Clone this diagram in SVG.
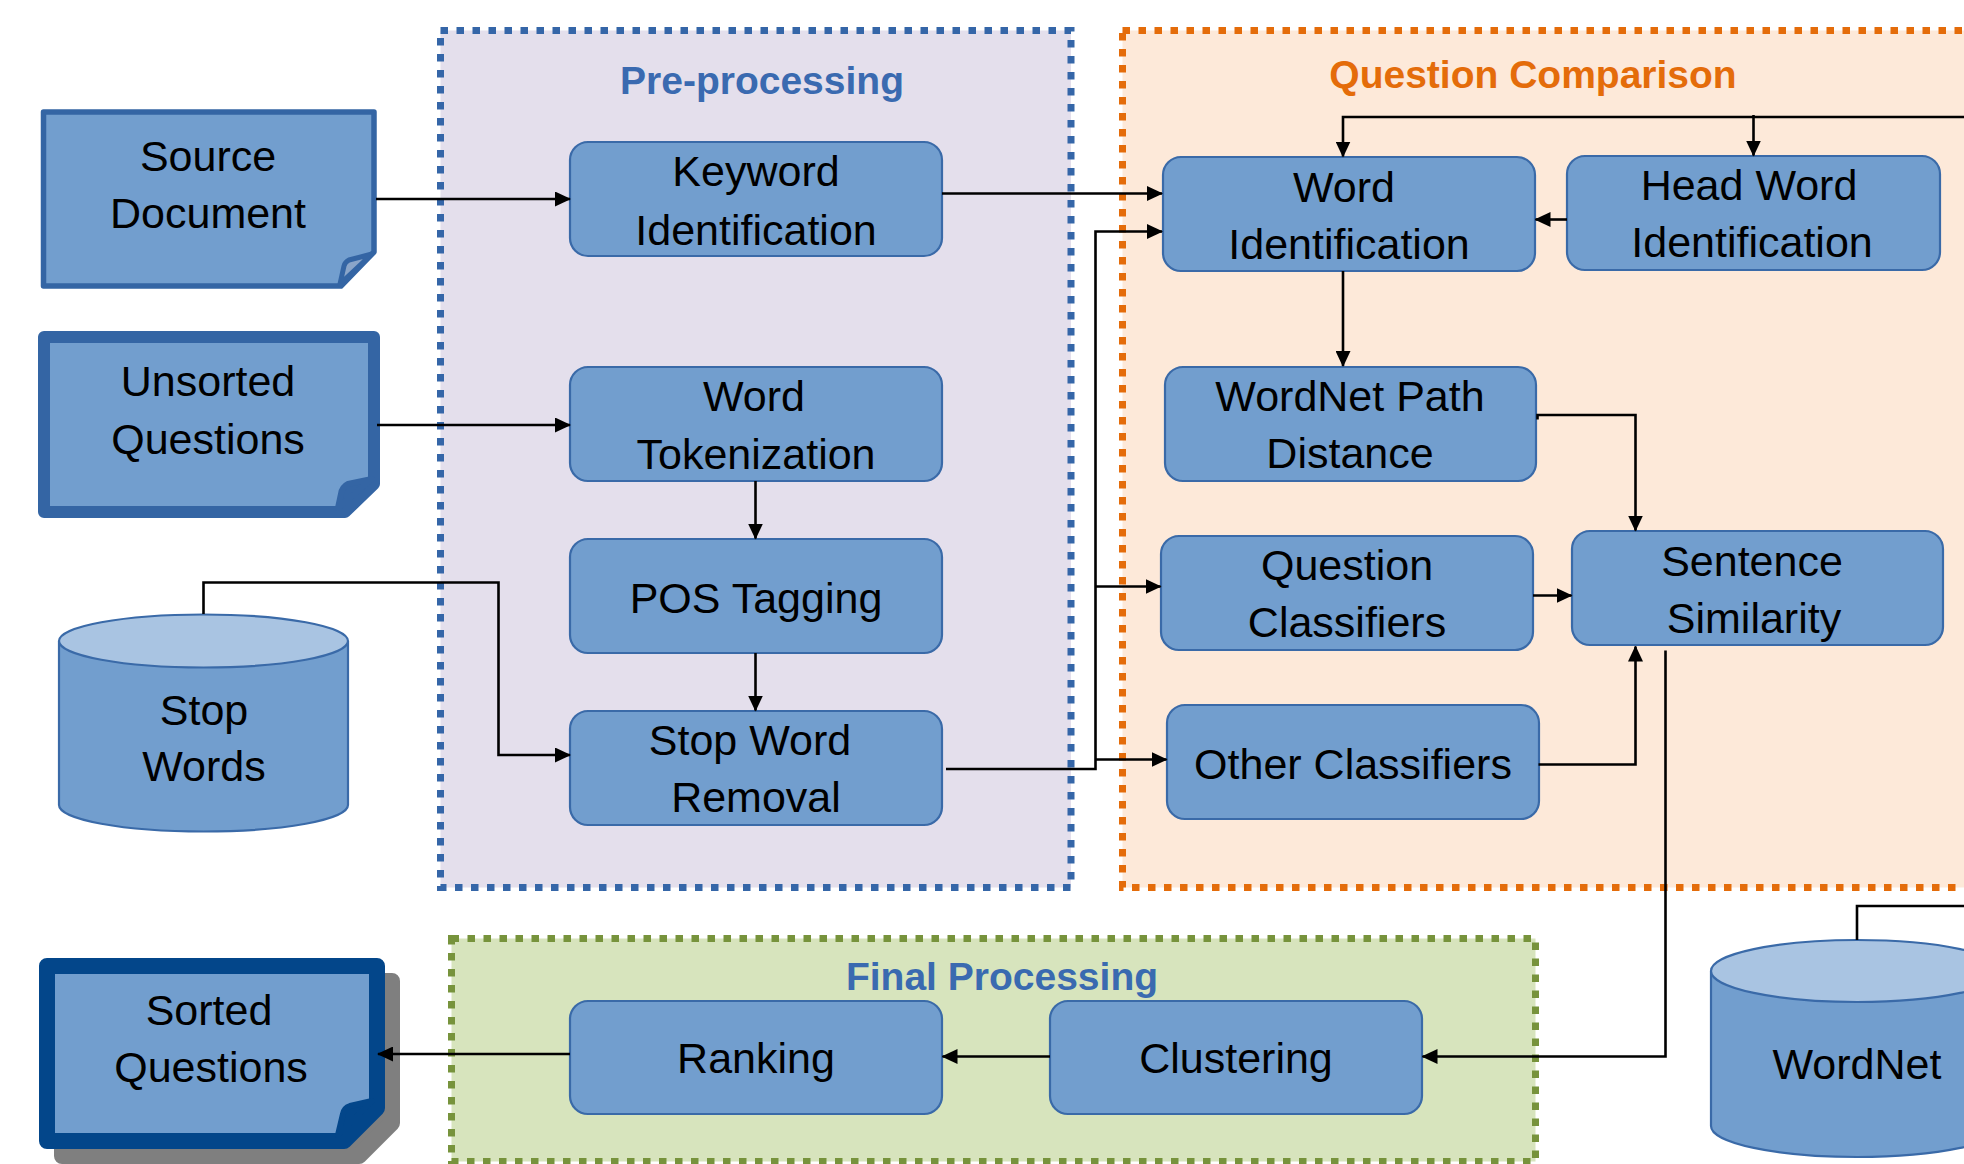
<svg xmlns="http://www.w3.org/2000/svg" width="1964" height="1164" viewBox="0 0 1964 1164">
<defs>
<style>
.cont{stroke-width:7;stroke-dasharray:7.5 8.5}
.title{font-family:"Liberation Sans",Arial,sans-serif;font-weight:bold;font-size:39px;text-anchor:middle}
.box{fill:#729ECE;stroke:#3A6AA8;stroke-width:2.2}
.t{font-family:"Liberation Sans",Arial,sans-serif;font-size:43px;fill:#000;text-anchor:middle}
.conn{fill:none;stroke:#000;stroke-width:2.6;stroke-linejoin:miter}
.cyl{fill:#729ECE;stroke:#3A6AA8;stroke-width:2.2}
.cyltop{fill:#A9C4E2;stroke:#3A6AA8;stroke-width:2.2}
</style>
<marker id="arr" viewBox="0 0 16 15" refX="15" refY="7.5" markerWidth="16" markerHeight="15" markerUnits="userSpaceOnUse" orient="auto">
<path d="M0,0 L16,7.5 L0,15 Z" fill="#000"/>
</marker>
</defs>
<rect width="1964" height="1164" fill="#fff"/>

<g id="preprocessing">
<rect x="440.5" y="30.5" width="630.5" height="857" fill="#E4DFEC" stroke="#3566A8" class="cont"/>
<text class="title" x="762" y="93.5" fill="#3A6AB0">Pre-processing</text>
</g>
<g id="question-comparison">
<rect x="1122.5" y="30.5" width="900" height="857" fill="#FDE9D9" stroke="#E46C0A" class="cont"/>
<text class="title" x="1533" y="87.5" fill="#E46C0A">Question Comparison</text>
</g>
<g id="final-processing">
<rect x="451.5" y="938.5" width="1084" height="223" fill="#D7E4BD" stroke="#77933C" class="cont"/>
<text class="title" x="1002" y="990" fill="#3A6AB0">Final Processing</text>
</g>

<g id="source-document">
<path d="M43.5,112 H374 V252 L341,286 H43.5 Z" fill="#729ECE" stroke="#3465A4" stroke-width="5.5" stroke-linejoin="round"/>
<path d="M372,254 L349,260 Q345,262 344,266 L340,284 Z" fill="#8AA5C9" stroke="#3465A4" stroke-width="5" stroke-linejoin="round"/>
<text class="t" x="208" y="171">Source</text>
<text class="t" x="208" y="228">Document</text>
</g>

<g id="unsorted-questions">
<path d="M44,337 H374 V484 L345,512 H44 Z" fill="#729ECE" stroke="#3465A4" stroke-width="12" stroke-linejoin="round"/>
<path d="M372,479 L348,484 Q342,487 341,494 L338,508 Z" fill="#3465A4" stroke="#3465A4" stroke-width="6" stroke-linejoin="round"/>
<text class="t" x="208" y="396">Unsorted</text>
<text class="t" x="208" y="454">Questions</text>
</g>

<g id="stop-words">
<path class="cyl" d="M59,641 V805 A144.5,26.5 0 0 0 348,805 V641"/>
<ellipse class="cyltop" cx="203.5" cy="641" rx="144.5" ry="26.5"/>
<text class="t" x="204" y="725">Stop</text>
<text class="t" x="204" y="781">Words</text>
</g>

<g id="sorted-questions">
<path d="M47,966 H377 V1108 L344,1141 H47 Z" transform="translate(15,15)" fill="#7F7F7F" stroke="#7F7F7F" stroke-width="16" stroke-linejoin="round"/>
<path d="M47,966 H377 V1108 L344,1141 H47 Z" fill="#729ECE" stroke="#03468A" stroke-width="16" stroke-linejoin="round"/>
<path d="M372,1101 L350,1106 Q344,1108 343,1114 L338,1135 Z" fill="#03468A" stroke="#03468A" stroke-width="6" stroke-linejoin="round"/>
<text class="t" x="209" y="1025">Sorted</text>
<text class="t" x="211" y="1082">Questions</text>
</g>

<g id="keyword-identification">
<rect class="box" x="570" y="142" width="372" height="114" rx="18"/>
<text class="t" x="756" y="186">Keyword</text>
<text class="t" x="756" y="245">Identification</text>
</g>
<g id="word-tokenization">
<rect class="box" x="570" y="367" width="372" height="114" rx="18"/>
<text class="t" x="754" y="411">Word</text>
<text class="t" x="756" y="469">Tokenization</text>
</g>
<g id="pos-tagging">
<rect class="box" x="570" y="539" width="372" height="114" rx="18"/>
<text class="t" x="756" y="613">POS Tagging</text>
</g>
<g id="stop-word-removal">
<rect class="box" x="570" y="711" width="372" height="114" rx="18"/>
<text class="t" x="750" y="755">Stop Word</text>
<text class="t" x="756" y="812">Removal</text>
</g>
<g id="word-identification">
<rect class="box" x="1163" y="157" width="372" height="114" rx="18"/>
<text class="t" x="1344" y="202">Word</text>
<text class="t" x="1349" y="259">Identification</text>
</g>
<g id="head-word-identification">
<rect class="box" x="1567" y="156" width="373" height="114" rx="18"/>
<text class="t" x="1749" y="200">Head Word</text>
<text class="t" x="1752" y="257">Identification</text>
</g>
<g id="wordnet-path-distance">
<rect class="box" x="1165" y="367" width="371" height="114" rx="18"/>
<text class="t" x="1350" y="411">WordNet Path</text>
<text class="t" x="1350" y="468">Distance</text>
</g>
<g id="question-classifiers">
<rect class="box" x="1161" y="536" width="372" height="114" rx="18"/>
<text class="t" x="1347" y="580">Question</text>
<text class="t" x="1347" y="637">Classifiers</text>
</g>
<g id="sentence-similarity">
<rect class="box" x="1572" y="531" width="371" height="114" rx="18"/>
<text class="t" x="1752" y="576">Sentence</text>
<text class="t" x="1754" y="633">Similarity</text>
</g>
<g id="other-classifiers">
<rect class="box" x="1167" y="705" width="372" height="114" rx="18"/>
<text class="t" x="1353" y="779">Other Classifiers</text>
</g>
<g id="clustering">
<rect class="box" x="1050" y="1001" width="372" height="113" rx="18"/>
<text class="t" x="1236" y="1073">Clustering</text>
</g>
<g id="ranking">
<rect class="box" x="570" y="1001" width="372" height="113" rx="18"/>
<text class="t" x="756" y="1073">Ranking</text>
</g>
<g id="wordnet">
<path class="cyl" d="M1711,971 V1126 A146,31 0 0 0 2003,1126 V971"/>
<ellipse class="cyltop" cx="1857" cy="971" rx="146" ry="31"/>
<text class="t" x="1857" y="1079">WordNet</text>
</g>

<g id="connectors">
<path class="conn" d="M376,199 H570" marker-end="url(#arr)"/>
<path class="conn" d="M377,425 H570" marker-end="url(#arr)"/>
<path class="conn" d="M203.5,614 V582.5 H498.5 V755 H570" marker-end="url(#arr)"/>
<path class="conn" d="M755.5,481 V538.5" marker-end="url(#arr)"/>
<path class="conn" d="M755.5,653 V710.5" marker-end="url(#arr)"/>
<path class="conn" d="M942,193.5 H1162" marker-end="url(#arr)"/>
<path class="conn" d="M946,769 H1095.5 V231.5 H1162" marker-end="url(#arr)"/>
<path class="conn" d="M1095.5,586.5 H1160.5" marker-end="url(#arr)"/>
<path class="conn" d="M1095.5,759.5 H1166.5" marker-end="url(#arr)"/>
<path class="conn" d="M1975,117 H1343 V156.5" marker-end="url(#arr)"/>
<path class="conn" d="M1753.5,115 V155.5" marker-end="url(#arr)"/>
<path class="conn" d="M1857,940 V906 H1975"/>
<path class="conn" d="M1567,219.5 H1535.5" marker-end="url(#arr)"/>
<path class="conn" d="M1343,271 V366" marker-end="url(#arr)"/>
<path class="conn" d="M1537.5,419.5 V415 H1635.5 V530.5" marker-end="url(#arr)"/>
<path class="conn" d="M1533,595.5 H1571.5" marker-end="url(#arr)"/>
<path class="conn" d="M1538.5,764.5 H1635.5 V646.5" marker-end="url(#arr)"/>
<path class="conn" d="M1665.5,650.5 V1056.5 H1422.5" marker-end="url(#arr)"/>
<path class="conn" d="M1050,1056.5 H942.5" marker-end="url(#arr)"/>
<path class="conn" d="M570,1054 H378" marker-end="url(#arr)"/>
</g>
</svg>
